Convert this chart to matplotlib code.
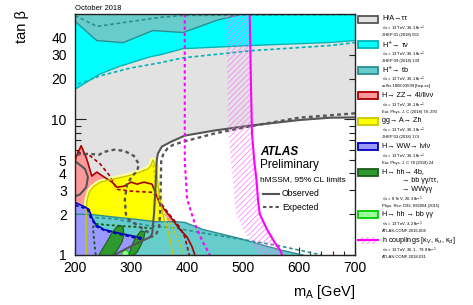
import matplotlib
matplotlib.use("Agg")
import matplotlib.pyplot as plt
from matplotlib.patches import Polygon, Rectangle
from matplotlib.ticker import FixedLocator, MultipleLocator, FuncFormatter

plt.rcParams["font.family"] = ["Liberation Sans", "DejaVu Sans"]
plt.rcParams["hatch.linewidth"] = 0.5

# ---- contours: (m_A [GeV], tan beta) ----
# H/A -> tautau
tt_obs_m = [700, 655, 600, 512, 450, 396, 370, 355, 348, 346, 345, 343, 341, 338, 335, 305, 270]
tt_obs_t = [10.35, 10.3, 9.9, 9.0, 8.3, 7.6, 6.8, 6.3, 5.6, 5.0, 4.0, 2.8, 2.0, 1.45, 1.36, 1.19, 1.0]
tt_exp_m = [700, 600, 512, 450, 396, 375, 365, 358, 354, 353, 352, 350, 346, 337, 332, 318, 296,
            291, 289, 293, 302, 311, 314, 305, 288, 270, 252, 243, 227, 209, 200]
tt_exp_t = [11.1, 10.3, 8.9, 7.9, 6.9, 6.5, 6.1, 5.6, 5.0, 3.0, 2.0, 1.6, 1.45, 1.36, 1.46, 1.59, 1.82,
            1.99, 2.57, 3.33, 3.82, 4.16, 4.69, 5.39, 5.87, 5.98, 5.77, 5.49, 5.57, 5.57, 5.39]
tt_isl_m = [200, 202, 218, 223, 220, 209, 200]
tt_isl_t = [4.95, 4.86, 4.31, 3.75, 3.16, 2.80, 2.71]

# H+ -> tau nu
tn_obs_m = [200, 245, 280, 334, 352, 393, 512, 655, 700]
tn_obs_t = [16.7, 21.7, 24.7, 29.0, 30.0, 33.3, 35.1, 37.0, 38.2]
tn_exp_m = [205, 245, 300, 352, 393, 512, 655, 700]
tn_exp_t = [18.2, 21.0, 24.0, 26.2, 28.5, 32.1, 35.1, 36.9]

# H+ -> tb (high and low tan beta)
tb_obs_m = [200, 239, 286, 339, 393, 453, 500]
tb_obs_t = [53.0, 38.2, 36.9, 45.3, 43.8, 53.9, 60.0]
tb_exp_m = [200, 239, 352, 393, 700]
tb_exp_t = [58.5, 48.6, 56.7, 58.6, 59.5]
tbl_obs_m = [200, 230, 257, 316, 343, 379, 396, 429, 489, 566, 607]
tbl_obs_t = [2.0, 1.99, 1.93, 1.82, 1.76, 1.76, 1.74, 1.54, 1.34, 1.09, 1.0]
tbl_exp_m = [225, 270, 330, 380, 430, 500, 560, 640]
tbl_exp_t = [1.9, 1.85, 1.65, 1.58, 1.45, 1.3, 1.18, 1.0]

# H -> ZZ
zz_obs_m = [200, 202, 211, 221, 230, 239, 252, 266, 275, 287.5, 300, 311, 323, 337.5, 352, 370, 387.5, 400, 409, 414]
zz_obs_t = [4.94, 5.30, 6.40, 5.11, 3.82, 4.09, 3.76, 3.45, 3.16, 3.22, 3.45, 3.33, 3.45, 3.33, 2.36, 1.92, 1.54, 1.36, 1.15, 1.0]
zz_exp_m = [204, 227, 245, 262.5, 275, 303.6, 339, 355, 373, 387.5, 396, 404]
zz_exp_t = [5.77, 5.39, 4.69, 3.82, 3.05, 2.95, 2.90, 2.36, 1.89, 1.59, 1.36, 1.0]

# A -> Zh
zh_obs_m = [220, 220, 222, 226, 233, 245, 268, 293, 316, 330, 336, 339, 345, 348, 352, 357, 364, 370, 375]
zh_obs_t = [1.0, 2.2, 2.6, 2.95, 3.2, 3.45, 3.63, 3.82, 4.09, 4.31, 4.61, 5.02, 4.45, 3.33, 2.57, 1.99, 1.59, 1.29, 1.0]
zh_exp_m = [340, 345, 355, 370, 385, 393]
zh_exp_t = [4.6, 3.0, 2.2, 1.7, 1.3, 1.0]

# H -> WW
ww_obs_m = [200, 216, 225, 230, 237.5, 252, 275, 293, 318, 310]
ww_obs_t = [2.44, 2.28, 2.17, 1.89, 1.67, 1.54, 1.46, 1.41, 1.34, 1.0]
ww_exp_m = [200, 222, 229, 238, 255, 280, 320]
ww_exp_t = [2.33, 2.18, 1.86, 1.62, 1.5, 1.42, 1.3]

# H -> hh (Run 1 combination) and hh -> bbyy
hh1_m = [243, 248, 257, 266, 275, 282, 286, 287.5, 284, 279, 273, 268]
hh1_t = [1.0, 1.09, 1.25, 1.46, 1.62, 1.65, 1.59, 1.41, 1.25, 1.15, 1.05, 1.0]
hh2_m = [296, 302, 309, 318, 325, 323, 318, 311, 305]
hh2_t = [1.0, 1.19, 1.36, 1.51, 1.48, 1.34, 1.19, 1.05, 1.0]
hh_exp_m = [237, 234, 232, 236, 254, 290, 320, 337]
hh_exp_t = [1.0, 1.3, 1.6, 1.7, 1.67, 1.63, 1.6, 1.57]
bbyy_m = [283, 285, 290, 295, 296]
bbyy_t = [1.0, 1.06, 1.09, 1.06, 1.0]

# h couplings
hc_obs_m = [512, 514, 516, 520, 524, 527, 530, 543, 556, 566, 570]
hc_obs_t = [60, 20, 8, 5, 3.6, 2.5, 2.0, 1.54, 1.25, 1.09, 1.0]
hc_exp_m = [396, 396, 400, 414, 428, 441]
hc_exp_t = [60, 5, 2.6, 1.7, 1.25, 1.0]

M_LO, M_HI, T_LO, T_HI = 200, 700, 1, 60
HATCH_W = 42  # GeV width of hatched side band

C_GRAY, E_GRAY = "#e2e2e2", "#555555"
C_CYAN, E_CYAN = "#00ffff", "#00b4b4"
C_TEAL, E_TEAL = "#66cccc", "#2b8f8f"
C_PINK, E_PINK = "#ff9999", "#aa0000"
C_YEL, E_YEL = "#ffff00", "#c8c800"
C_BLUE, E_BLUE = "#9999ff", "#0000bb"
C_GRN, E_GRN = "#2e992e", "#1a5c1a"
C_LGRN, E_LGRN = "#99ff99", "#00cc00"
C_MAG = "#ff00ff"

DASH = (0, (2.2, 1.6))
DOT = (0, (1.6, 1.4))

fig = plt.figure(figsize=(4.73, 3.05), dpi=100)
ax = fig.add_axes([75 / 473, 50 / 305, 280 / 473, 241 / 305])
ax.set_xlim(M_LO, M_HI)
ax.set_yscale("log")
ax.set_ylim(T_LO, T_HI)


def poly(xs, ys, fc, z, **kw):
    ax.add_patch(Polygon(list(zip(xs, ys)), closed=True, facecolor=fc, edgecolor="none", zorder=z, **kw))


# fills
poly(tt_obs_m + [M_LO, M_LO, M_HI], tt_obs_t + [T_LO, T_HI, T_HI], C_GRAY, 1)
poly(tn_obs_m + [M_HI, M_LO], tn_obs_t + [T_HI, T_HI], C_CYAN, 2)
poly(tb_obs_m + [M_LO], tb_obs_t + [T_HI], C_TEAL, 3)
poly(zz_obs_m + [M_LO], zz_obs_t + [T_LO], C_PINK, 4)
ax.plot(zh_obs_m, zh_obs_t, color="#ffff99", lw=4, zorder=4.5, solid_capstyle="butt")
poly(zh_obs_m, zh_obs_t, C_YEL, 5)
poly([M_LO] + tbl_obs_m, [T_LO] + tbl_obs_t, C_TEAL, 6)
poly(ww_obs_m + [M_LO], ww_obs_t + [T_LO], C_BLUE, 7)
poly(hh1_m, hh1_t, C_GRN, 8)
poly(hh2_m, hh2_t, C_GRN, 8)
poly(bbyy_m, bbyy_t, C_LGRN, 9)

# outlines
ax.plot(tn_obs_m, tn_obs_t, color=E_CYAN, lw=1.0, zorder=10)
ax.plot(tn_exp_m, tn_exp_t, color=E_CYAN, lw=1.2, ls=DASH, zorder=10)
ax.plot(tb_obs_m, tb_obs_t, color=E_TEAL, lw=1.0, zorder=10)
ax.plot(tb_exp_m, tb_exp_t, color=E_TEAL, lw=1.2, ls=DASH, zorder=10)
ax.plot(tbl_obs_m, tbl_obs_t, color=E_TEAL, lw=1.0, zorder=10)
ax.plot(tbl_exp_m, tbl_exp_t, color=E_TEAL, lw=1.2, ls=DASH, zorder=10)
ax.plot(zz_obs_m, zz_obs_t, color=E_PINK, lw=1.2, zorder=11)
ax.plot(zz_exp_m, zz_exp_t, color=E_PINK, lw=1.2, ls=DASH, zorder=11)
ax.plot(zh_obs_m, zh_obs_t, color=E_YEL, lw=1.0, zorder=11)
ax.plot(zh_exp_m, zh_exp_t, color=E_YEL, lw=1.2, ls=DOT, zorder=11)
ax.plot(ww_obs_m[:-1], ww_obs_t[:-1], color=E_BLUE, lw=1.2, zorder=11)
ax.plot(ww_exp_m, ww_exp_t, color=E_BLUE, lw=1.2, ls=DASH, zorder=11)
ax.plot(hh1_m, hh1_t, color=E_GRN, lw=0.8, zorder=11)
ax.plot(hh2_m, hh2_t, color=E_GRN, lw=0.8, zorder=11)
ax.plot(hh_exp_m, hh_exp_t, color=E_GRN, lw=1.3, ls=DOT, zorder=11)
ax.plot(bbyy_m, bbyy_t, color=E_LGRN, lw=0.8, zorder=11)
ax.plot(tt_obs_m, tt_obs_t, color=E_GRAY, lw=1.5, zorder=12)
ax.plot(tt_isl_m, tt_isl_t, color=E_GRAY, lw=1.5, zorder=12)
ax.plot(tt_exp_m, tt_exp_t, color=E_GRAY, lw=1.7, ls=DOT, zorder=12)

# h couplings: hatched band on the excluded side
band_m = hc_obs_m + [m - HATCH_W for m in hc_obs_m[::-1]]
band_t = hc_obs_t + hc_obs_t[::-1]
ax.add_patch(Polygon(list(zip(band_m, band_t)), closed=True, facecolor="none",
                     edgecolor="#ff77ff", lw=0, hatch="//////", zorder=13))
ax.plot(hc_obs_m, hc_obs_t, color=C_MAG, lw=1.5, zorder=14)
ax.plot(hc_exp_m, hc_exp_t, color=C_MAG, lw=1.5, ls=DOT, zorder=14)

# axes styling
ax.xaxis.set_major_locator(MultipleLocator(100))
ax.xaxis.set_minor_locator(MultipleLocator(20))
ax.yaxis.set_major_locator(FixedLocator([1, 10]))
ax.yaxis.set_minor_locator(FixedLocator([2, 3, 4, 5, 6, 7, 8, 9, 20, 30, 40, 50]))
ax.yaxis.set_major_formatter(FuncFormatter(lambda v, p: f"{v:g}"))
ax.yaxis.set_minor_formatter(FuncFormatter(lambda v, p: f"{v:g}" if v in (2, 3, 4, 5, 20, 30, 40) else ""))
ax.tick_params(which="both", direction="in", top=True, right=True, labelsize=10, width=0.8, color="#222222")
ax.tick_params(axis="y", which="major", length=8, pad=6)
ax.tick_params(axis="y", which="minor", length=4.5, pad=6, labelsize=10)
ax.tick_params(axis="x", which="major", length=6, pad=4.5)
ax.tick_params(axis="x", which="minor", length=3)
for s in ax.spines.values():
    s.set_linewidth(1.0)
    s.set_color("#222222")
    s.set_zorder(20)

fig.text(75 / 473, 1 - 8 / 305, "October 2018", fontsize=5.5, va="center", ha="left")
fig.text(22 / 473, 1 - 10 / 305, "tan β", fontsize=10.5, rotation=90, va="top", ha="center")
fig.text(355 / 473, 1 - 292 / 305, "m$_\\mathregular{A}$ [GeV]", fontsize=10.5, va="center", ha="right")

# ATLAS label block
fig.text(260 / 473, 1 - 152 / 305, "ATLAS", fontsize=8.5, fontweight="bold", style="italic", va="center")
fig.text(260 / 473, 1 - 165 / 305, "Preliminary", fontsize=8.5, va="center")
fig.text(260 / 473, 1 - 180 / 305, "hMSSM, 95% CL limits", fontsize=6, va="center")
lab = fig.add_axes([0, 0, 1, 1], facecolor="none")
lab.set_xlim(0, 473)
lab.set_ylim(305, 0)
lab.axis("off")
lab.plot([263, 279], [194, 194], color=E_GRAY, lw=1.5)
lab.plot([263, 279], [207, 207], color=E_GRAY, lw=1.5, ls=DOT)
lab.text(282, 194, "Observed", fontsize=6.2, va="center")
lab.text(282, 207, "Expected", fontsize=6.2, va="center")

# legend column
entries = [
    (C_GRAY, E_GRAY, ["H/A→ττ"], ["√s = 13 TeV, 36.1 fb$^{-1}$", "JHEP 01 (2018) 055"]),
    (C_CYAN, E_CYAN, ["H$^{+}$→ τν"], ["√s = 13 TeV, 36.1 fb$^{-1}$", "JHEP 09 (2018) 139"]),
    (C_TEAL, E_TEAL, ["H$^{+}$→ tb"], ["√s = 13 TeV, 36.1 fb$^{-1}$", "arXiv:1808.03599 [hep-ex]"]),
    (C_PINK, E_PINK, ["H→ ZZ→ 4l/llνν"], ["√s = 13 TeV, 36.1 fb$^{-1}$", "Eur. Phys. J. C (2018) 78: 293"]),
    (C_YEL, E_YEL, ["gg→ A→ Zh"], ["√s = 13 TeV, 36.1 fb$^{-1}$", "JHEP 03 (2018) 174"]),
    (C_BLUE, E_BLUE, ["H→ WW→ lνlν"], ["√s = 13 TeV, 36.1 fb$^{-1}$", "Eur. Phys. J. C 78 (2018) 24"]),
    (C_GRN, E_GRN, ["H→ hh→ 4b,", "          → bb γγ/ττ,", "          → WWγγ"],
     ["√s = 8 TeV, 20.3 fb$^{-1}$", "Phys. Rev. D92, 092004 (2015)"]),
    (C_LGRN, E_LGRN, ["H→ hh → bb γγ"], ["√s = 13 TeV, 3.2 fb$^{-1}$", "ATLAS-CONF-2016-004"]),
    (None, C_MAG, ["h couplings [κ$_V$, κ$_u$, κ$_d$]"],
     ["√s = 13 TeV, 36.1 - 79.8 fb$^{-1}$", "ATLAS-CONF-2018-031"]),
]
y = 19
for fc, ec, main, sub in entries:
    if fc is None:
        lab.add_patch(Rectangle((358, y - 3.5), 20, 7, facecolor="none", edgecolor="#ff77ff", lw=0, hatch="//////"))
        lab.plot([358, 378], [y, y], color=C_MAG, lw=1.5)
    else:
        lab.add_patch(Rectangle((358, y - 3.5), 20, 7, facecolor=fc, edgecolor=ec, lw=1.3))
    for i, line in enumerate(main):
        lab.text(382, y, line, fontsize=5.2, va="center")
        y += 8.6 if i < len(main) - 1 else 9.0
    for line in sub:
        lab.text(382, y, line, fontsize=3.0, va="center")
        y += 7.3
    y += 1.9

fig.savefig("out.png", dpi=100)
